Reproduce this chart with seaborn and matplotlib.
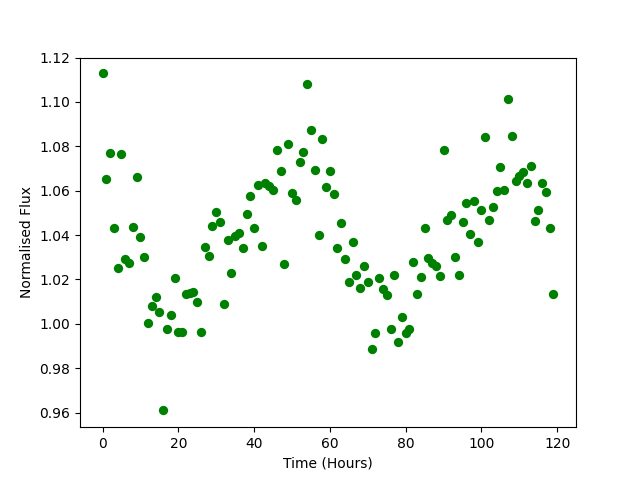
import matplotlib
matplotlib.use("Agg")
import matplotlib.pyplot as plt
import seaborn as sns
import numpy as np

hours = list(range(120))
flux = [
    1.113, 1.0655, 1.077, 1.043, 1.025, 1.0765, 1.029, 1.0275, 1.0435, 1.066,
    1.039, 1.030, 1.0005, 1.008, 1.012, 1.0055, 0.961, 0.9975, 1.004, 1.0205,
    0.9965, 0.9965, 1.0135, 1.014, 1.0145, 1.010, 0.9965, 1.0345, 1.0305, 1.044,
    1.0505, 1.046, 1.009, 1.038, 1.023, 1.0395, 1.041, 1.034, 1.0495, 1.0575,
    1.043, 1.0625, 1.035, 1.0635, 1.062, 1.0605, 1.0785, 1.069, 1.027, 1.081,
    1.059, 1.056, 1.073, 1.0775, 1.108, 1.0875, 1.0695, 1.040, 1.0835, 1.0615,
    1.069, 1.0585, 1.034, 1.0455, 1.029, 1.019, 1.037, 1.022, 1.016, 1.026,
    1.019, 0.9885, 0.996, 1.0205, 1.0155, 1.013, 0.9975, 1.022, 0.992, 1.003,
    0.996, 0.9975, 1.028, 1.0135, 1.021, 1.043, 1.0295, 1.0275, 1.026, 1.0215,
    1.0785, 1.047, 1.049, 1.030, 1.022, 1.046, 1.0545, 1.0405, 1.0555, 1.037,
    1.0515, 1.084, 1.047, 1.0525, 1.060, 1.0705, 1.0605, 1.1015, 1.0845, 1.0645,
    1.0665, 1.0685, 1.0635, 1.071, 1.0465, 1.0515, 1.0635, 1.0595, 1.043, 1.0135,
]

fig, ax = plt.subplots(figsize=(6.4, 4.8), dpi=100)
sns.scatterplot(x=hours, y=flux, color="#008000", s=45, linewidth=0, ax=ax)
ax.set_xlabel("Time (Hours)")
ax.set_ylabel("Normalised Flux")
ax.set_yticks(np.arange(0.96, 1.1201, 0.02))
ax.set_xticks([0, 20, 40, 60, 80, 100, 120])
ax.set_xlim(-5.95, 124.95)
ax.set_ylim(0.9534, 1.1200)
fig.savefig("out.png", dpi=100)
